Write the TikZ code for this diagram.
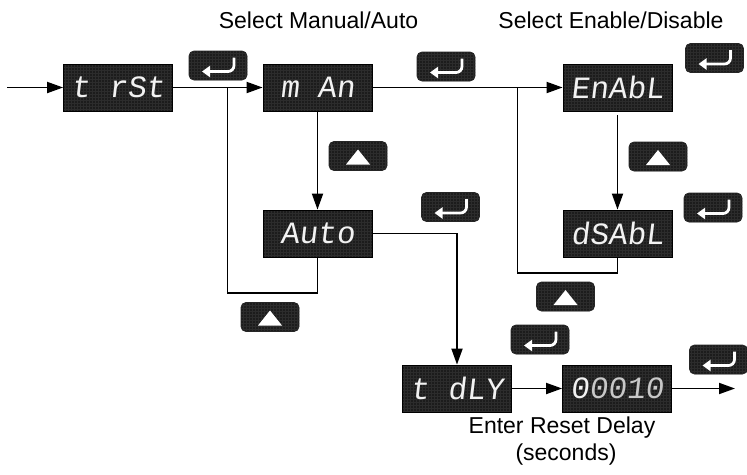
\documentclass[tikz,border=0pt]{standalone}
\usepackage{fontspec}
\setmainfont{Liberation Sans}
\newfontfamily\segfont[FakeSlant=0.12]{Liberation Mono}
\usetikzlibrary{arrows.meta}
\definecolor{dispbg}{HTML}{1C1C1C}
\definecolor{dispgrid}{HTML}{2C2C2C}
\definecolor{segwhite}{HTML}{F2F2F2}
\definecolor{seggray}{HTML}{C8C8C8}
\tikzset{
  gridfill/.style={path picture={\draw[dispgrid, line width=0.5pt, step=3pt]
      ([shift={(-3pt,-3pt)}]path picture bounding box.south west) grid
      ([shift={(3pt,3pt)}]path picture bounding box.north east);}},
  disp/.style={draw=black, line width=0.8pt, fill=dispbg, gridfill,
    minimum width=109pt, minimum height=47pt, inner sep=0pt, text=segwhite,
    font=\segfont\fontsize{31}{31}\selectfont},
  btn/.style={draw=black!85, line width=0.8pt, fill=dispbg, gridfill,
    rounded corners=5pt, minimum width=58pt, minimum height=29pt, inner sep=0pt},
  conn/.style={line width=1.8pt, draw=black},
  arr/.style={conn, -{Triangle[length=16pt,width=11pt]}},
  entericon/.style={draw=white, line width=2.8pt, rounded corners=6pt,
    -{Triangle[length=8pt,width=11pt]}},
  lbl/.style={font=\fontsize{23}{27}\selectfont, inner sep=0pt}
}
\newcommand\entbtn[2]{%
  \node[btn] (#1) at (#2) {};
  \draw[entericon] ([shift={(16,-8)}]#1.center) -- ([shift={(16,6)}]#1.center) -- ([shift={(-16,6)}]#1.center);
}
\newcommand\upbtn[2]{%
  \node[btn] (#1) at (#2) {};
  \fill[white] ([shift={(0,-6.5)}]#1.center) -- ([shift={(12,8.5)}]#1.center) -- ([shift={(-12,8.5)}]#1.center) -- cycle;
}
\begin{document}
\begin{tikzpicture}[x=1pt,y=-1pt]
\useasboundingbox (0,0) rectangle (747,474);

% displays
\node[disp] (trst)  at (118,87.5)   {t rSt};
\node[disp] (mman)  at (317.5,87.5) {m An};
\node[disp] (enabl) at (617.5,87.5) {EnAbL};
\node[disp] (auto)  at (317.5,233.5) {Auto};
\node[disp] (dsabl) at (617.5,233.5) {dSAbL};
\node[disp] (tdly)  at (457,388.5)  {t dLY};
\node[disp] (val)   at (617,388.5)  {\textcolor{segwhite}{0}\textcolor{seggray}{0010}};

% buttons
\entbtn{e1}{218,65.5}
\entbtn{e2}{446,66.5}
\entbtn{e3}{714.5,58}
\upbtn{u1}{358,156}
\upbtn{u2}{658,156.5}
\entbtn{e4}{450.5,207}
\entbtn{e5}{713,207.5}
\upbtn{u3}{270,317}
\upbtn{u4}{565.5,296.5}
\entbtn{e6}{540,339.5}
\entbtn{e7}{718.5,359.5}

% labels
\node[lbl] (l1) at (318.5,20) {Select Manual/Auto};
\node[lbl] (l2) at (611,20) {Select Enable/Disable};
\node[lbl] (l3) at (562,428) {Enter Reset Delay};
\node[lbl] (l4) at (566,455) {(seconds)};

% coordinates
\coordinate (in) at (7,87.5);
\coordinate (j1) at (227.5,87.5);
\coordinate (lA) at (317.5,293);
\coordinate (j2) at (517.5,87.5);
\coordinate (lD) at (617.5,273);
\coordinate (out) at (735,388.5);

% connectors
\draw[arr] (in) -- (trst);
\draw[arr] (trst) -- (mman);
\draw[arr] (mman) -- (enabl);
\draw[arr] (mman) -- (auto);
\draw[arr] ([yshift=-4pt]enabl.south) -- (dsabl);
\draw[conn] (auto.south) -- (lA) -| (j1);
\draw[conn] (dsabl.south) -- (lD) -| (j2);
\draw[arr] (auto.east) -| (tdly.north);
\draw[arr] (tdly) -- (val);
\draw[arr] (val) -- (out);
\end{tikzpicture}
\end{document}
